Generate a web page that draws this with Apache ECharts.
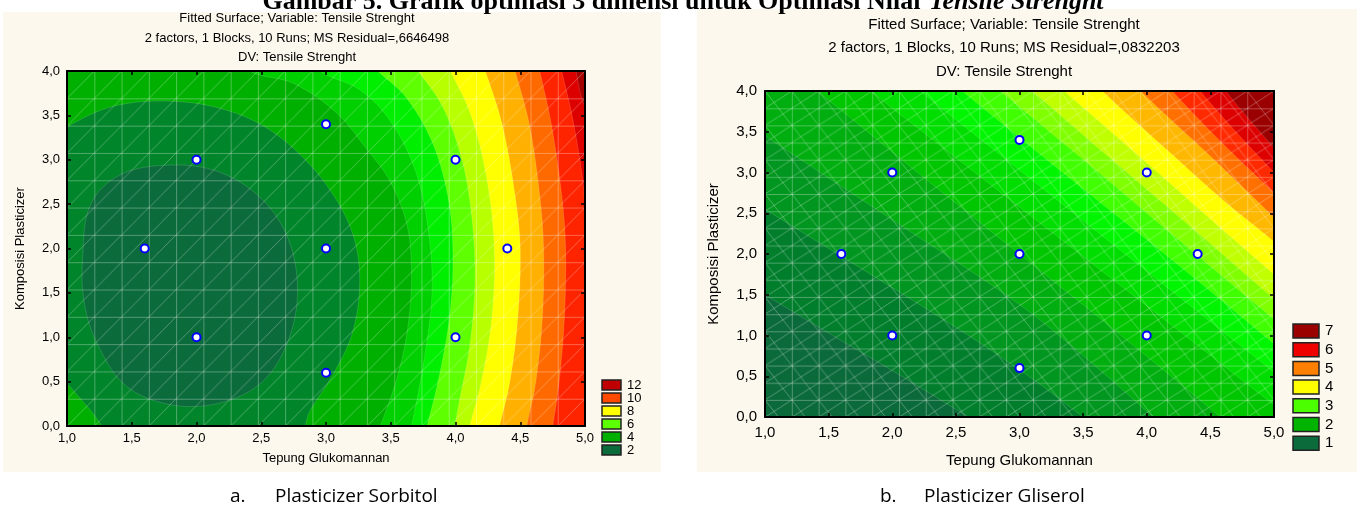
<!DOCTYPE html>
<html>
<head>
<meta charset="utf-8">
<script src="https://cdn.jsdelivr.net/npm/echarts@6/dist/echarts.min.js"></script>
<style>
  html, body { margin: 0; padding: 0; background: #fff; }
  #chart { width: 1365px; height: 517px; }
</style>
</head>
<body>
<div id="chart"></div>
<script>
// ---- data ----
var xTicks = [1, 1.5, 2, 2.5, 3, 3.5, 4, 4.5, 5];
var yTicks = [0, 0.5, 1, 1.5, 2, 2.5, 3, 3.5, 4];
var xTitle = 'Tepung Glukomannan';
var yTitle = 'Komposisi Plasticizer';

// design points (both plots)
var runPoints = [[1.6, 2], [2, 3], [2, 1], [3, 3.4], [3, 2], [3, 0.6], [4, 3], [4, 1], [4.4, 2]];

// a. sorbitol: open contour arcs, outer -> inner (region left of the arc gets the colour)
var sorbitolArcs = [
  [[4.9, 4.3], [4.93, 4.0], [5.0, 3.6], [5.2, 3.2]],
  [[4.78, 4.3], [4.82, 4.0], [4.9, 3.5], [4.98, 2.8], [5.02, 2.2], [5.2, 1.0], [5.2, -0.4]],
  [[4.6, 4.3], [4.65, 4.0], [4.74, 3.4], [4.82, 2.6], [4.85, 2.0], [4.84, 1.2], [4.8, 0.5], [4.75, 0], [4.7, -0.4]],
  [[4.4, 4.3], [4.46, 4.0], [4.57, 3.4], [4.65, 2.6], [4.68, 2.0], [4.67, 1.2], [4.62, 0.5], [4.55, 0], [4.5, -0.4]],
  [[4.15, 4.3], [4.23, 4.0], [4.36, 3.4], [4.46, 2.6], [4.5, 2.0], [4.48, 1.2], [4.42, 0.5], [4.34, 0], [4.28, -0.4]],
  [[3.85, 4.3], [3.96, 4.0], [4.12, 3.5], [4.24, 2.8], [4.3, 2.0], [4.28, 1.2], [4.2, 0.5], [4.11, 0], [4.05, -0.4]],
  [[3.55, 4.3], [3.71, 4.0], [3.9, 3.6], [4.05, 3.0], [4.13, 2.3], [4.15, 1.6], [4.11, 0.9], [4.02, 0.2], [3.96, -0.4]],
  [[3.2, 4.3], [3.4, 4.0], [3.62, 3.7], [3.82, 3.2], [3.94, 2.6], [3.98, 2.0], [3.96, 1.3], [3.88, 0.6], [3.78, 0], [3.7, -0.4]],
  [[2.75, 4.3], [2.95, 4.0], [3.26, 3.79], [3.49, 3.45], [3.69, 2.88], [3.79, 2.21], [3.82, 1.53], [3.77, 0.86], [3.66, 0], [3.58, -0.4]],
  [[2.15, 4.35], [2.41, 4.0], [2.75, 3.86], [3.08, 3.53], [3.32, 3.11], [3.49, 2.77], [3.62, 2.3], [3.66, 1.8], [3.64, 1.2], [3.56, 0.6], [3.42, 0], [3.3, -0.4]]
];
// a. sorbitol: closed contour loops, outer -> inner
var sorbitolLoops = [
  [[0.91, 3.22], [1.1, 3.45], [1.41, 3.62], [1.8, 3.66], [2.18, 3.58], [2.53, 3.37], [2.84, 3.0], [3.08, 2.55],
   [3.22, 2.1], [3.26, 1.59], [3.2, 1.03], [3.05, 0.57], [2.88, 0.18], [2.76, -0.21], [2.03, -0.5], [1.41, -0.21],
   [1.18, 0.18], [1.0, 0.48], [0.83, 0.74], [0.79, 1.98]],
  [[1.12, 1.87], [1.18, 2.49], [1.41, 2.83], [1.8, 2.94], [2.18, 2.86], [2.51, 2.55], [2.71, 2.1], [2.78, 1.53],
   [2.71, 0.97], [2.51, 0.5], [2.18, 0.26], [1.8, 0.24], [1.45, 0.46], [1.22, 0.97], [1.13, 1.42]]
];
var sorbitolOuterColor = '#a50000';
var sorbitolColors = ['#dd0000', '#ff2400', '#ff6a00', '#ffb000', '#ffff00', '#b8ff00', '#5eff00', '#00ee00', '#00cf00', '#00b000', '#00852a', '#0b6b3b'];
var sorbitolLegendLabels = ['12', '10', '8', '6', '4', '2'];
var sorbitolLegendColors = ['#c00000', '#ff4a00', '#ffff00', '#5cff00', '#00b000', '#0b6b3b'];

// b. gliserol: contour lines, outer (top right) -> inner (bottom left)
var gliserolLines = [
  [[4.5, 4.3], [4.62, 4.0], [5.0, 3.3], [5.2, 2.95]],
  [[4.28, 4.3], [4.42, 4.0], [4.7, 3.5], [5.0, 3.0], [5.3, 2.5]],
  [[4.05, 4.3], [4.2, 4.0], [4.6, 3.35], [5.0, 2.75], [5.3, 2.3]],
  [[3.78, 4.3], [3.95, 4.0], [4.5, 3.2], [5.0, 2.45], [5.3, 2.0]],
  [[3.47, 4.3], [3.65, 4.0], [4.2, 3.22], [4.6, 2.66], [5.0, 2.15], [5.3, 1.72]],
  [[3.13, 4.3], [3.35, 4.0], [4.0, 3.12], [4.5, 2.43], [5.0, 1.75], [5.3, 1.34]],
  [[2.88, 4.3], [3.1, 4.0], [3.8, 3.06], [4.4, 2.26], [5.0, 1.45], [5.3, 1.05]],
  [[2.62, 4.3], [2.85, 4.0], [3.6, 3.03], [4.3, 2.11], [5.0, 1.2], [5.3, 0.81]],
  [[2.33, 4.3], [2.55, 4.0], [3.5, 2.8], [4.3, 1.8], [5.0, 0.9], [5.3, 0.52]],
  [[2.0, 4.3], [2.22, 4.0], [3.0, 3.03], [4.0, 1.79], [5.0, 0.55], [5.3, 0.18]],
  [[1.6, 4.3], [1.83, 4.0], [2.65, 3.0], [3.5, 1.97], [4.3, 1.0], [5.0, 0.15], [5.3, -0.2]],
  [[1.15, 4.3], [1.41, 4.0], [2.2, 3.0], [3.0, 2.0], [3.8, 1.0], [4.58, 0], [4.85, -0.35]],
  [[0.7, 3.78], [1.0, 3.45], [2.0, 2.42], [3.0, 1.38], [3.6, 0.62], [4.05, 0], [4.3, -0.35]],
  [[0.7, 2.85], [1.0, 2.55], [1.8, 1.78], [2.6, 1.0], [3.1, 0.47], [3.5, 0], [3.8, -0.35]],
  [[0.7, 1.78], [1.0, 1.5], [1.5, 1.03], [2.0, 0.57], [2.6, 0], [2.9, -0.28]]
];
var gliserolOuterColor = '#9b0000';
var gliserolColors = ['#dd0000', '#ff2a00', '#ff7000', '#ffb800', '#ffff00', '#c0ff00', '#80ff00', '#40ff00', '#00f600', '#00de00', '#00c600', '#00ae10', '#00961f', '#007e2c', '#0b6a3a'];
var gliserolLegendLabels = ['7', '6', '5', '4', '3', '2', '1'];
var gliserolLegendColors = ['#9b0000', '#ee0000', '#ff7f00', '#ffff00', '#4cff00', '#00b400', '#0b6b3b'];

// ---- layout ----
var FONT = 'Liberation Sans';
var panels = [
  {left: 67, top: 71, width: 518, height: 355, fs: 13, bg: [3, 12, 658, 460],
   titles: ['Fitted Surface; Variable: Tensile Strenght', '2 factors, 1 Blocks, 10 Runs; MS Residual=,6646498', 'DV: Tensile Strenght'],
   titleY: [18, 38, 57], titleX: 297, meshRows: 13, meshCols: 19, both: false,
   xMargin: 6, yMargin: 7, xNameGap: 26, yNameGap: 40,
   legend: {x: 602, y: 380, w: 19, h: 10, step: 13, fs: 13}},
  {left: 765, top: 91, width: 509, height: 326, fs: 15, bg: [697, 9, 660, 463],
   titles: ['Fitted Surface; Variable: Tensile Strenght', '2 factors, 1 Blocks, 10 Runs; MS Residual=,0832203', 'DV: Tensile Strenght'],
   titleY: [25, 48, 72], titleX: 1004, meshRows: 19, meshCols: 19, both: true,
   xMargin: 8, yMargin: 8, xNameGap: 36, yNameGap: 44,
   legend: {x: 1293, y: 324, w: 26, h: 14, step: 18.7, fs: 15}}
];

function fmt(v) { return v.toFixed(1).replace('.', ','); }

function closeRegion(line) {
  var first = line[0], last = line[line.length - 1];
  return line.concat([[last[0], -2], [-1, -2], [-1, 6], [first[0], 6]]);
}

var rect = [[1, 0], [5, 0], [5, 4], [1, 4]];
var sorbitolShapes = [rect].concat(sorbitolArcs.map(closeRegion), sorbitolLoops);
var sorbitolFills = [sorbitolOuterColor].concat(sorbitolColors);
var gliserolShapes = [rect].concat(gliserolLines.map(closeRegion));
var gliserolFills = [gliserolOuterColor].concat(gliserolColors);

function contourSeries(gi, shapes, fills) {
  return {
    type: 'custom', xAxisIndex: gi * 2, yAxisIndex: gi * 2, clip: true, silent: true, z: 2,
    data: shapes.map(function (s, i) { return [3, 2, i]; }),
    renderItem: function (params, api) {
      var i = params.dataIndex;
      var pts = shapes[i].map(function (p) { return api.coord(p); });
      return {
        type: 'polygon', z2: i,
        shape: {points: pts, smooth: i === 0 ? 0 : 0.35},
        style: {fill: fills[i], stroke: 'rgba(255,255,255,0.18)', lineWidth: 0.8}
      };
    }
  };
}

function meshCanvas(cw, ch, both) {
  var c = document.createElement('canvas');
  var h = both ? ch * 2 : ch;
  c.width = Math.round(cw); c.height = Math.round(h);
  var g = c.getContext('2d');
  g.strokeStyle = 'rgba(255,255,255,0.3)';
  g.lineWidth = 1;
  g.beginPath();
  g.moveTo(0.5, 0); g.lineTo(0.5, c.height);
  g.moveTo(0, 0.5); g.lineTo(c.width, 0.5);
  g.moveTo(0, ch + 0.5); g.lineTo(c.width, ch + 0.5);
  g.moveTo(0, ch); g.lineTo(c.width, 0);
  if (both) {
    g.moveTo(0, c.height); g.lineTo(c.width, ch);
    g.moveTo(0, 0); g.lineTo(c.width, c.height);
  }
  g.stroke();
  return c;
}

var grids = [], xAxes = [], yAxes = [], series = [], graphics = [];

panels.forEach(function (p, gi) {
  grids.push({left: p.left, top: p.top, width: p.width, height: p.height, containLabel: false});
  var line = {show: true, onZero: false, lineStyle: {color: '#000', width: 2}};
  var tick = {show: true, inside: true, length: 4, lineStyle: {color: '#000', width: 1.5}};
  var label = {color: '#000', fontSize: p.fs, fontFamily: FONT, formatter: fmt};
  xAxes.push({gridIndex: gi, type: 'value', position: 'bottom', min: xTicks[0], max: xTicks[xTicks.length - 1], interval: 0.5, z: 4,
    axisLine: line, axisTick: tick, splitLine: {show: false},
    axisLabel: Object.assign({margin: p.xMargin}, label),
    name: xTitle, nameLocation: 'middle', nameGap: p.xNameGap,
    nameTextStyle: {color: '#000', fontSize: p.fs, fontFamily: FONT}});
  xAxes.push({gridIndex: gi, type: 'value', position: 'top', min: xTicks[0], max: xTicks[xTicks.length - 1], interval: 0.5, z: 4,
    axisLine: line, axisTick: tick, splitLine: {show: false}, axisLabel: {show: false}});
  yAxes.push({gridIndex: gi, type: 'value', position: 'left', min: yTicks[0], max: yTicks[yTicks.length - 1], interval: 0.5, z: 4,
    axisLine: line, axisTick: tick, splitLine: {show: false},
    axisLabel: Object.assign({margin: p.yMargin}, label),
    name: yTitle, nameLocation: 'middle', nameGap: p.yNameGap,
    nameTextStyle: {color: '#000', fontSize: p.fs, fontFamily: FONT}});
  yAxes.push({gridIndex: gi, type: 'value', position: 'right', min: yTicks[0], max: yTicks[yTicks.length - 1], interval: 0.5, z: 4,
    axisLine: line, axisTick: tick, splitLine: {show: false}, axisLabel: {show: false}});

  // panel background
  graphics.push({type: 'rect', z: -1, silent: true,
    shape: {x: p.bg[0], y: p.bg[1], width: p.bg[2], height: p.bg[3]}, style: {fill: '#fdf8ee'}});
  // mesh overlay
  var cw = p.width / p.meshCols, ch = p.height / p.meshRows;
  var canvas = meshCanvas(cw, ch, p.both);
  graphics.push({type: 'rect', z: 3, silent: true,
    shape: {x: p.left, y: p.top, width: p.width, height: p.height},
    style: {fill: {type: 'pattern', image: canvas, repeat: 'repeat', x: p.left, y: p.top,
      scaleX: cw / Math.round(cw), scaleY: (p.both ? ch * 2 : ch) / canvas.height}}});
  // titles
  p.titles.forEach(function (t, k) {
    graphics.push({type: 'text', z: 5, silent: true, x: p.titleX, y: p.titleY[k],
      style: {text: t, fill: '#000', font: p.fs + 'px "' + FONT + '"', textAlign: 'center', textVerticalAlign: 'middle'}});
  });
  // legend
  var labels = gi ? gliserolLegendLabels : sorbitolLegendLabels;
  var colors = gi ? gliserolLegendColors : sorbitolLegendColors;
  var lg = p.legend;
  labels.forEach(function (lab, k) {
    var yy = lg.y + k * lg.step;
    graphics.push({type: 'rect', z: 5, silent: true, shape: {x: lg.x, y: yy, width: lg.w, height: lg.h},
      style: {fill: colors[k], stroke: '#222', lineWidth: 1.5}});
    graphics.push({type: 'text', z: 5, silent: true, x: lg.x + lg.w + 6, y: yy + lg.h / 2,
      style: {text: lab, fill: '#000', font: lg.fs + 'px "' + FONT + '"', textAlign: 'left', textVerticalAlign: 'middle'}});
  });
});

series.push(contourSeries(0, sorbitolShapes, sorbitolFills));
series.push(contourSeries(1, gliserolShapes, gliserolFills));
[0, 1].forEach(function (gi) {
  series.push({type: 'scatter', xAxisIndex: gi * 2, yAxisIndex: gi * 2, z: 6, data: runPoints,
    symbol: 'circle', symbolSize: 8, silent: true,
    itemStyle: {color: '#fff', borderColor: '#0000ff', borderWidth: 2, opacity: 1}});
});

// figure caption (cut at the top) and sub captions
graphics.push({type: 'text', z: 6, silent: true, x: 927, y: 15,
  style: {text: 'Gambar 5. Grafik optimasi 3 dimensi untuk Optimasi Nilai ', fill: '#000',
    font: 'bold 26px "Liberation Serif"', textAlign: 'right', textVerticalAlign: 'bottom'}});
graphics.push({type: 'text', z: 6, silent: true, x: 929, y: 15,
  style: {text: 'Tensile Strenght', fill: '#000',
    font: 'italic bold 26px "Liberation Serif"', textAlign: 'left', textVerticalAlign: 'bottom'}});
[['a.', 230, 'Plasticizer Sorbitol', 275], ['b.', 880, 'Plasticizer Gliserol', 924]].forEach(function (c) {
  graphics.push({type: 'text', z: 6, silent: true, x: c[1], y: 497,
    style: {text: c[0], fill: '#000', font: '19px "Open Sans"', textAlign: 'left', textVerticalAlign: 'middle'}});
  graphics.push({type: 'text', z: 6, silent: true, x: c[3], y: 497,
    style: {text: c[2], fill: '#000', font: '19px "Open Sans"', textAlign: 'left', textVerticalAlign: 'middle'}});
});

var chart = echarts.init(document.getElementById('chart'));
chart.setOption({
  animation: false,
  backgroundColor: '#fff',
  grid: grids,
  xAxis: xAxes,
  yAxis: yAxes,
  graphic: graphics,
  series: series
});
</script>
</body>
</html>
